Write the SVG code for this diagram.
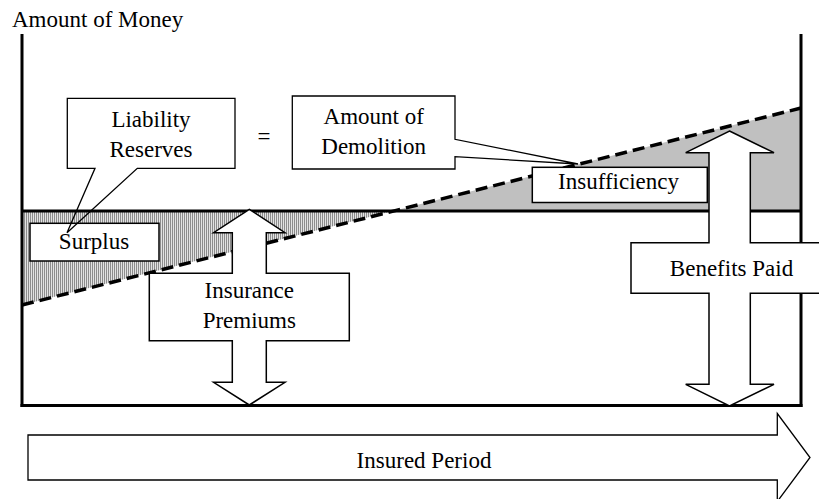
<svg xmlns="http://www.w3.org/2000/svg" width="819" height="499" viewBox="0 0 819 499" font-family="Liberation Serif, Times New Roman, DejaVu Serif, serif" font-size="23">
<style>
text{fill:#000;text-anchor:middle}
.box{fill:#fff;stroke:#000;stroke-width:1.5}
.arrow{fill:#fff;stroke:#000;stroke-width:1.5;stroke-linejoin:miter}
.axis{fill:none;stroke:#000;stroke-width:3}
.call{fill:none;stroke:#000;stroke-width:1.3}
</style>
<defs>
<pattern id="vhatch" width="2" height="4" patternUnits="userSpaceOnUse">
<rect width="2" height="4" fill="#e2e2e2"/>
<rect width="1" height="4" fill="#8c8c8c"/>
</pattern>
</defs>
<rect width="819" height="499" fill="#fff"/>
<g id="regions">
<polygon id="surplus-area" points="22,211 393,211 22,305" fill="url(#vhatch)"/>
<polygon id="insufficiency-area" points="393,211 801,108 801,211" fill="#c0c0c0"/>
</g>
<g id="axes">
<text x="12" y="27" text-anchor="start" style="text-anchor:start" font-family="Liberation Serif, serif">Amount of Money</text>
<line class="axis" x1="22" y1="34" x2="22" y2="407"/>
<line class="axis" x1="801" y1="34" x2="801" y2="407"/>
<line class="axis" x1="20.5" y1="405.5" x2="802.5" y2="405.5"/>
<line class="axis" x1="22" y1="211" x2="801" y2="211"/>
<line id="reserve-line" x1="22" y1="305" x2="801" y2="108" stroke="#000" stroke-width="3.5" stroke-dasharray="12,6"/>
</g>
<g id="premiums">
<polygon class="arrow" points="249.3,209.3 285,232.7 266.3,232.7 266.3,273.3 349.3,273.3 349.3,340.7 266.3,340.7 266.3,382.3 285,382.3 249.3,405 213.6,382.3 232.3,382.3 232.3,340.7 149.3,340.7 149.3,273.3 232.3,273.3 232.3,232.7 213.6,232.7"/>
<text x="249.3" y="297.5">Insurance</text>
<text x="249.3" y="327.5">Premiums</text>
</g>
<g id="benefits">
<polygon class="arrow" points="729.5,131 774,152.7 750.3,152.7 750.3,242.7 828,242.7 828,293.3 750.3,293.3 750.3,384.3 774,384.3 729.5,406 685.7,384.3 709,384.3 709,293.3 631,293.3 631,242.7 709,242.7 709,152.7 685.7,152.7"/>
<text x="731.5" y="276">Benefits Paid</text>
</g>
<g id="surplus">
<rect class="box" x="30" y="223.3" width="129" height="37.7"/>
<text x="94" y="249.3">Surplus</text>
</g>
<g id="insufficiency">
<rect class="box" x="532.3" y="167.3" width="175" height="35.2"/>
<text x="618.5" y="188.5">Insufficiency</text>
</g>
<g id="liability">
<path class="call" d="M67.3,98.3 H235 V168.3 H137.3 L67,232.7 L95,168.3 H67.3 Z"/>
<text x="151" y="126.7">Liability</text>
<text x="151" y="156.7">Reserves</text>
</g>
<g id="equals">
<text x="264" y="143.5">=</text>
</g>
<g id="demolition">
<path class="call" d="M292.3,96 H455 V139.3 L578,164 L455,156.7 V169 H292.3 Z"/>
<text x="373.7" y="123.5">Amount of</text>
<text x="373.7" y="154">Demolition</text>
</g>
<g id="period">
<polygon class="arrow" style="stroke-width:1.3" points="28,435 777.3,435 777.3,413.5 810,457.5 777.3,501.5 777.3,480 28,480"/>
<text x="424" y="468">Insured Period</text>
</g>
</svg>
